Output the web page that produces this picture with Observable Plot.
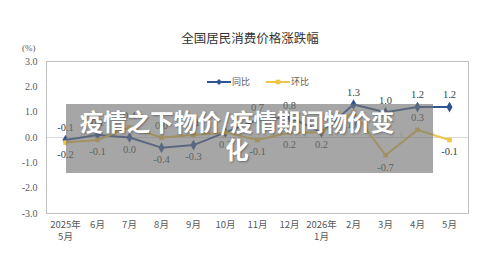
<!DOCTYPE html>
<html><head><meta charset="utf-8">
<script src="https://cdn.jsdelivr.net/npm/d3@7"></script>
<script src="https://cdn.jsdelivr.net/npm/@observablehq/plot@0.6"></script>
<style>
body{margin:0;background:#fff}
#wrap{position:relative;width:500px;height:278px;overflow:hidden;background:#fff}
#wrap svg{position:absolute;left:0;top:0}
.title{position:absolute;left:0;width:500px;top:30px;text-align:center;font:12.5px "Noto Sans CJK SC",sans-serif;color:#333;line-height:16px}
.unit{position:absolute;left:22px;top:43px;font:9px "Liberation Serif",serif;color:#595959}
.legend{position:absolute;left:0;top:0}
.shade{position:absolute;left:66px;top:104px;width:367px;height:69px;background:rgba(115,115,115,0.64)}
.headline{position:absolute;left:66px;width:342px;top:107px;text-align:center;font:bold 23.5px/28px "Noto Sans CJK SC",sans-serif;color:#fff;text-shadow:1px 1px 2px rgba(0,0,0,0.35)}
</style></head><body><div id="wrap"></div>
<script>
const months = ["2025-05","2025-06","2025-07","2025-08","2025-09","2025-10","2025-11","2025-12","2026-01","2026-02","2026-03","2026-04","2026-05"];
const monthLabels = ["2025年\n5月","6月","7月","8月","9月","10月","11月","12月","2026年\n1月","2月","3月","4月","5月"];
const yoy = [-0.1, 0.1, 0.0, -0.4, -0.3, 0.2, 0.7, 0.8, 0.2, 1.3, 1.0, 1.2, 1.2];
const mom = [-0.2, -0.1, 0.4, 0.0, 0.1, 0.2, -0.1, 0.2, 0.2, 1.0, -0.7, 0.3, -0.1];
const yTicks = [-3, -2, -1, 0, 1, 2, 3];
const seriesNames = ["同比", "环比"];
const titleText = "全国居民消费价格涨跌幅";
const headlineText = ["疫情之下物价/疫情期间物价变", "化"];
// label placement per point: 1 above, -1 below, 0 none
const yoySide = [1, 1, -1, -1, -1, 0, 1, 1, 0, 1, 1, 1, 1];
const momSide = [-1, -1, 1, 1, 1, -1, -1, -1, -1, -1, -1, 1, -1];

const BLUE = "#2F5597", GOLD = "#EFC545";
const rows = months.map((m, i) => ({m, label: monthLabels[i], yoy: yoy[i], mom: mom[i], ys: yoySide[i], ms: momSide[i]}));
const W = 500, H = 278, ML = 46, MR = 32, MT = 61, MB = 65;
const step = (W - ML - MR) / months.length;
const numFont = "'Liberation Serif','Times New Roman',serif";
const lab = (key, side, filterKey) => Plot.text(rows.filter(d => d[filterKey] === side), {
  x: "m", y: key, text: d => d[key].toFixed(1), dy: side * -12, lineAnchor: "middle",
  fontFamily: numFont, fontSize: 10.5, fill: "#404040"
});

const chart = Plot.plot({
  width: W, height: H, marginLeft: ML, marginRight: MR, marginTop: MT, marginBottom: MB,
  x: {type: "point", domain: months, padding: 0.5, axis: null},
  y: {domain: [-3, 3], ticks: yTicks, tickFormat: d => d.toFixed(1), tickSize: 0, tickPadding: 9, label: null},
  style: {fontFamily: numFont, fontSize: "10px", color: "#595959", background: "#fff"},
  marks: [
    Plot.ruleY([0], {stroke: "#d9d9d9"}),
    Plot.ruleX(months.slice(1), {x: d => d, dx: -step / 2, y1: 0, y2: 0.2, stroke: "#d9d9d9"}),
    Plot.frame({stroke: "#c0c0c0"}),
    Plot.line(rows, {x: "m", y: "yoy", stroke: BLUE, strokeWidth: 2}),
    Plot.dot(rows, {x: "m", y: "yoy", symbol: "diamond", r: 3.2, fill: BLUE}),
    Plot.line(rows, {x: "m", y: "mom", stroke: GOLD, strokeWidth: 2}),
    Plot.dot(rows, {x: "m", y: "mom", symbol: "square", r: 2.6, fill: GOLD}),
    lab("yoy", 1, "ys"), lab("yoy", -1, "ys"),
    lab("mom", 1, "ms"), lab("mom", -1, "ms"),
    Plot.text(rows, {x: "m", text: "label", frameAnchor: "bottom", lineAnchor: "top", dy: 6,
      lineHeight: 1.27, fontFamily: "'Noto Sans CJK SC',sans-serif", fontSize: 9.5, fill: "#595959"})
  ]
});

const wrap = document.getElementById("wrap");
wrap.appendChild(chart);

const t = document.createElement("div"); t.className = "title"; t.textContent = titleText; wrap.appendChild(t);
const u = document.createElement("div"); u.className = "unit"; u.textContent = "(%)"; wrap.appendChild(u);

// legend
const ns = "http://www.w3.org/2000/svg";
const lg = document.createElementNS(ns, "svg");
lg.setAttribute("class", "legend"); lg.setAttribute("width", W); lg.setAttribute("height", H);
const items = [{name: seriesNames[0], c: BLUE, x: 207, sym: "diamond"}, {name: seriesNames[1], c: GOLD, x: 266, sym: "square"}];
for (const it of items) {
  const y = 82;
  const l = document.createElementNS(ns, "line");
  l.setAttribute("x1", it.x); l.setAttribute("x2", it.x + 24); l.setAttribute("y1", y); l.setAttribute("y2", y);
  l.setAttribute("stroke", it.c); l.setAttribute("stroke-width", 2); lg.appendChild(l);
  const cx = it.x + 12;
  const p = document.createElementNS(ns, "path");
  p.setAttribute("d", it.sym === "diamond" ? `M${cx},${y-3}L${cx+3},${y}L${cx},${y+3}L${cx-3},${y}Z` : `M${cx-2.3},${y-2.3}h4.6v4.6h-4.6Z`);
  p.setAttribute("fill", it.c); lg.appendChild(p);
  const tx = document.createElementNS(ns, "text");
  tx.setAttribute("x", it.x + 25); tx.setAttribute("y", y); tx.setAttribute("dy", "0.35em");
  tx.setAttribute("font-family", "'Noto Sans CJK SC',sans-serif"); tx.setAttribute("font-size", "9");
  tx.setAttribute("fill", "#595959"); tx.textContent = it.name; lg.appendChild(tx);
}
wrap.appendChild(lg);

const sh = document.createElement("div"); sh.className = "shade"; wrap.appendChild(sh);
const hl = document.createElement("div"); hl.className = "headline";
hl.innerHTML = headlineText.join("<br>"); wrap.appendChild(hl);
</script>
</body></html>
